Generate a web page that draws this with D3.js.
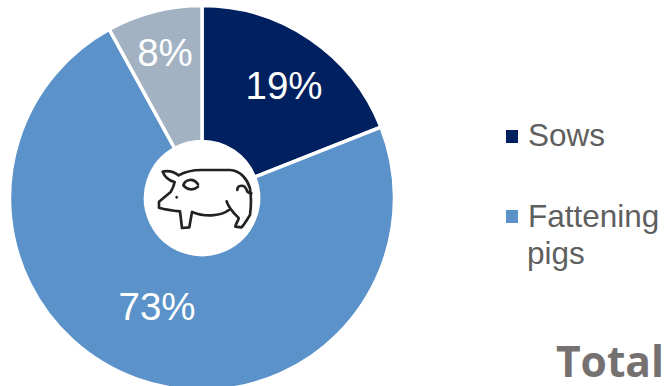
<!DOCTYPE html>
<html>
<head>
<meta charset="utf-8">
<script src="https://cdn.jsdelivr.net/npm/d3@7/dist/d3.min.js"></script>
<style>
html,body{margin:0;padding:0;background:#fff;overflow:hidden}
svg{display:block}
</style>
</head>
<body>
<svg id="chart" width="665" height="386"></svg>
<script>
// Herd composition, in percent
const categories = ["Sows", "Fattening pigs", "Other"];
const shares = [19, 73, 8];
const sliceColors = ["#002060", "#5A92C9", "#A2B2C3"];
const legendLines = [["Sows"], ["Fattening", "pigs"]];
const legendTitle = "Total";

const svg = d3.select("#chart");
const centre = [202, 198];
const outer = 192.5, inner = 56.5;

const pie = d3.pie().value(d => d).sort(null);
const arc = d3.arc().innerRadius(inner).outerRadius(outer);
const labelOffsets = [[82, -113], [-45, 108], [-37, -146]];

const ring = svg.append("g").attr("transform", `translate(${centre})`);
ring.selectAll("path")
  .data(pie(shares))
  .join("path")
  .attr("d", arc)
  .attr("fill", (d, i) => sliceColors[i])
  .attr("stroke", "#fff")
  .attr("stroke-width", 3.5);

ring.selectAll("text")
  .data(shares)
  .join("text")
  .attr("x", (d, i) => labelOffsets[i][0])
  .attr("y", (d, i) => labelOffsets[i][1])
  .attr("text-anchor", "middle")
  .attr("dominant-baseline", "central")
  .attr("font-family", "'Liberation Sans', Arial, sans-serif")
  .attr("font-size", 38.5)
  .attr("fill", "#fff")
  .text(d => `${d}%`);

// Line-art pig in the hole of the ring
const pig = svg.append("g")
  .attr("transform", "translate(130,140) scale(0.3333)")
  .attr("fill", "none")
  .attr("stroke", "#222")
  .attr("stroke-width", 8)
  .attr("stroke-linecap", "round")
  .attr("stroke-linejoin", "round");
pig.append("path").attr("d",
  "M146 106 C170 92 190 90 215 90 L300 90 C332 92 352 118 360 145 " +
  "C364 170 364 195 360 225 C350 240 342 256 334 262 L316 260 " +
  "C318 248 326 242 326 234 C312 220 296 205 290 184 " +
  "M300 208 C270 232 220 230 186 216 L178 262 L156 264 L150 214 " +
  "C130 212 105 208 87 203 L87 185 L122 156 C128 146 132 136 134 126 " +
  "C118 122 104 110 98 95 C112 92 130 94 146 106");
pig.append("path").attr("d", "M322 150 C322 134 344 132 350 150 C352 158 358 160 364 160");
pig.append("path").attr("d", "M204 133 C190 112 165 118 160 136 C172 150 190 152 204 140");
pig.append("circle").attr("cx", 140).attr("cy", 172).attr("r", 3).attr("fill", "#222").attr("stroke-width", 3);

// Legend
const swatchY = [130, 210];
const baselines = [[146], [227, 264]];
const legend = svg.append("g");
legendLines.forEach((lines, i) => {
  legend.append("rect")
    .attr("x", 506).attr("y", swatchY[i])
    .attr("width", 12).attr("height", 13)
    .attr("fill", sliceColors[i]);
  lines.forEach((line, j) => {
    legend.append("text")
      .attr("x", 528 - j)
      .attr("y", baselines[i][j])
      .attr("font-family", "'Liberation Sans', Arial, sans-serif")
      .attr("font-size", 31.5)
      .attr("fill", "#5f5f5f")
      .text(line);
  });
});

svg.append("text")
  .attr("x", 556).attr("y", 377)
  .attr("font-family", "'Open Sans', sans-serif")
  .attr("font-weight", 700)
  .attr("font-size", 42.5)
  .attr("fill", "#767171")
  .text(legendTitle);
</script>
</body>
</html>
